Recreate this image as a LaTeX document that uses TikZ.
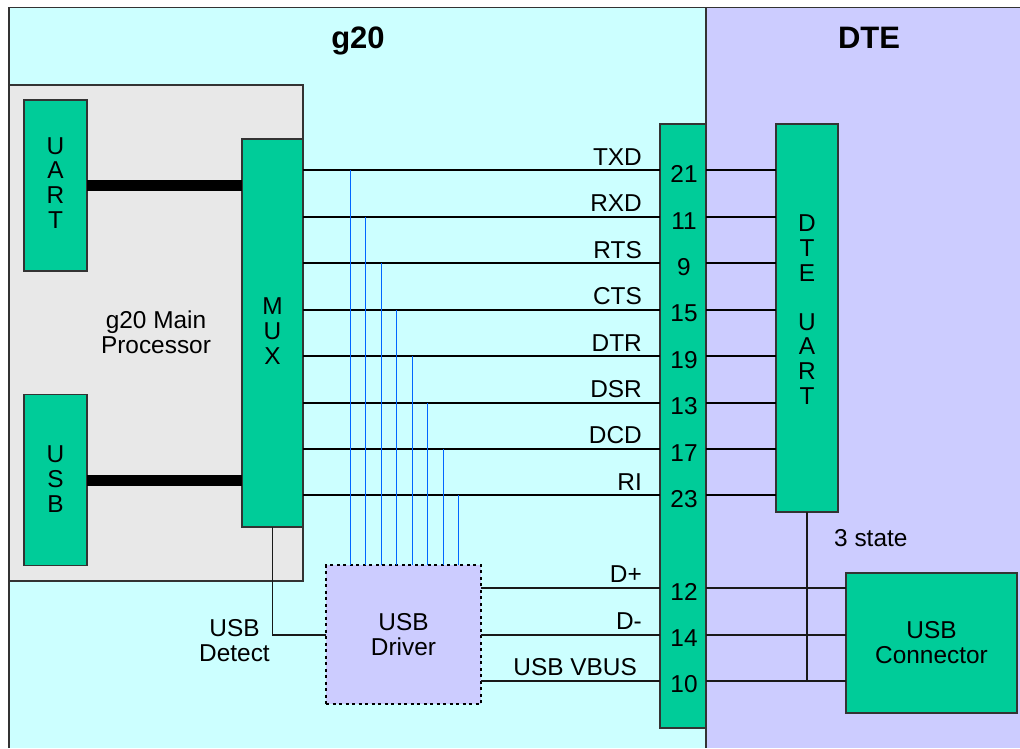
\documentclass[tikz,border=0pt]{standalone}
\usepackage{fontspec}
\setmainfont{Liberation Sans}
\definecolor{gpanel}{HTML}{CCFFFF}
\definecolor{dpanel}{HTML}{CCCCFF}
\definecolor{procgrey}{HTML}{E8E8E8}
\definecolor{block}{HTML}{00CC99}
\definecolor{edge}{HTML}{333333}
\definecolor{ctl}{HTML}{0066FF}
\newcommand{\fsz}[1]{\fontsize{#1}{24.6}\selectfont}
% stacked centred lines; the last baseline sits #1 above the node's centre
\newcommand{\stk}[2]{\raisebox{#1}[0pt][0pt]{\vbox{\halign{\hfil##\hfil\cr #2\crcr}}}}
\tikzset{
  box/.style={draw=edge,line width=1.3pt,inner sep=0pt,outer sep=0pt,font=\fsz{24.4}},
  greenbox/.style={box,fill=block},
  sig/.style={draw=black,line width=2pt},
  usbsig/.style={draw=black!90,line width=1.1pt},
  bus/.style={draw=black,line width=11pt},
  ctlline/.style={draw=ctl,line width=1.1pt},
  lab/.style={font=\fsz{24.4},anchor=base east,inner sep=0pt},
  pin/.style={font=\fsz{24.4},anchor=base,inner sep=0pt},
  title/.style={font=\fsz{31}\bfseries,anchor=base,inner sep=0pt},
  note/.style={font=\fsz{24.4},inner sep=0pt},
}
\begin{document}
\begin{tikzpicture}[x=1pt,y=-1pt]
\useasboundingbox (0,0) rectangle (1020,748);
% panels
\fill[gpanel] (9,7.5) rectangle (706,748);
\fill[dpanel] (706,7.5) rectangle (1020,748);
\draw[edge,line width=1.3pt] (9,748) -- (9,7.5) -- (1020,7.5);
\draw[edge,line width=1.3pt] (706,7.5) -- (706,748);
\node[title] (gtitle) at (358,48) {g20};
\node[title] (dtitle) at (869,48) {DTE};
\node[box,fill=procgrey,minimum width=294pt,minimum height=496pt] (proc) at (156,333) {};
% blocks
\node[greenbox,minimum width=63pt,minimum height=171pt] (uart) at (55.5,185.5) {\stk{-42.5pt}{U\cr A\cr R\cr T}};
\node[greenbox,minimum width=63pt,minimum height=171pt] (usb) at (55.5,480) {\stk{-32pt}{U\cr S\cr B}};
\node[greenbox,minimum width=61pt,minimum height=388pt] (mux) at (272.5,333) {\stk{-31pt}{M\cr U\cr X}};
\node[greenbox,minimum width=46pt,minimum height=604pt] (conn) at (683,426) {};
\node[greenbox,minimum width=62pt,minimum height=388pt] (dte) at (807,318) {\stk{-86pt}{D\cr T\cr E\cr \cr U\cr A\cr R\cr T}};
\node[greenbox,minimum width=171pt,minimum height=140pt] (usbc) at (931.5,643) {\stk{-20.5pt}{USB\cr Connector}};
\node[box,fill=dpanel,draw=black,dash pattern=on 3pt off 3.5pt,minimum width=155pt,minimum height=139pt] (drv) at (403.5,634.5) {\stk{-20.5pt}{USB\cr Driver}};
% rails
\foreach \n/\y in {a/170,b/216.5,c/263,d/309.5,e/356,f/402.5,g/449,h/495,i/588,j/635,k/681}
  \coordinate (r\n) at (0,\y);
% buses
\draw[bus] (uart.east |- 0,185.5) -- (mux.west |- 0,185.5);
\draw[bus] (usb.east |- 0,480.5) -- (mux.west |- 0,480.5);
% signal lines
\foreach \n in {a,b,c,d,e,f,g,h}{
  \draw[sig] (mux.east |- r\n) -- (conn.west |- r\n);
  \draw[sig] (conn.east |- r\n) -- (dte.west |- r\n);
}
% control lines
\foreach \n/\x in {a/350.5,b/365.5,c/381.5,d/396.5,e/412.5,f/427.5,g/443.5,h/458.5}
  \draw[ctlline] (\x,565) -- (\x,0 |- r\n);
% USB lines
\foreach \n in {i,j,k}{
  \draw[usbsig] (drv.east |- r\n) -- (conn.west |- r\n);
  \draw[usbsig] (conn.east |- r\n) -- (usbc.west |- r\n);
}
\draw[usbsig] (dte.south) -- (dte.south |- rk);
\draw[usbsig] (mux.south) -- (mux.south |- rj) -- (drv.west |- rj);
% signal labels
\foreach \t/\y in {TXD/165,RXD/211,RTS/258,CTS/304,DTR/351,DSR/397,DCD/443,RI/490,D+/582,D-/629}
  \node[lab] (l\t) at (642,\y) {\t};
\node[lab] (lvbus) at (637,675) {USB VBUS};
% pin numbers
\foreach \t/\y in {21/182,11/229,9/275,15/321,19/368,13/414,17/461,23/507,12/600,14/646,10/692}
  \node[pin] (p\t) at (684,\y) {\t};
% notes
\node[note] (mainproc) at (156,353) {\stk{0pt}{g20 Main\cr Processor}};
\node[note] (detect) at (234.5,661) {\stk{0pt}{USB\cr Detect}};
\node[note,anchor=base west] (tri) at (834,546.5) {3 state};
\end{tikzpicture}
\end{document}
